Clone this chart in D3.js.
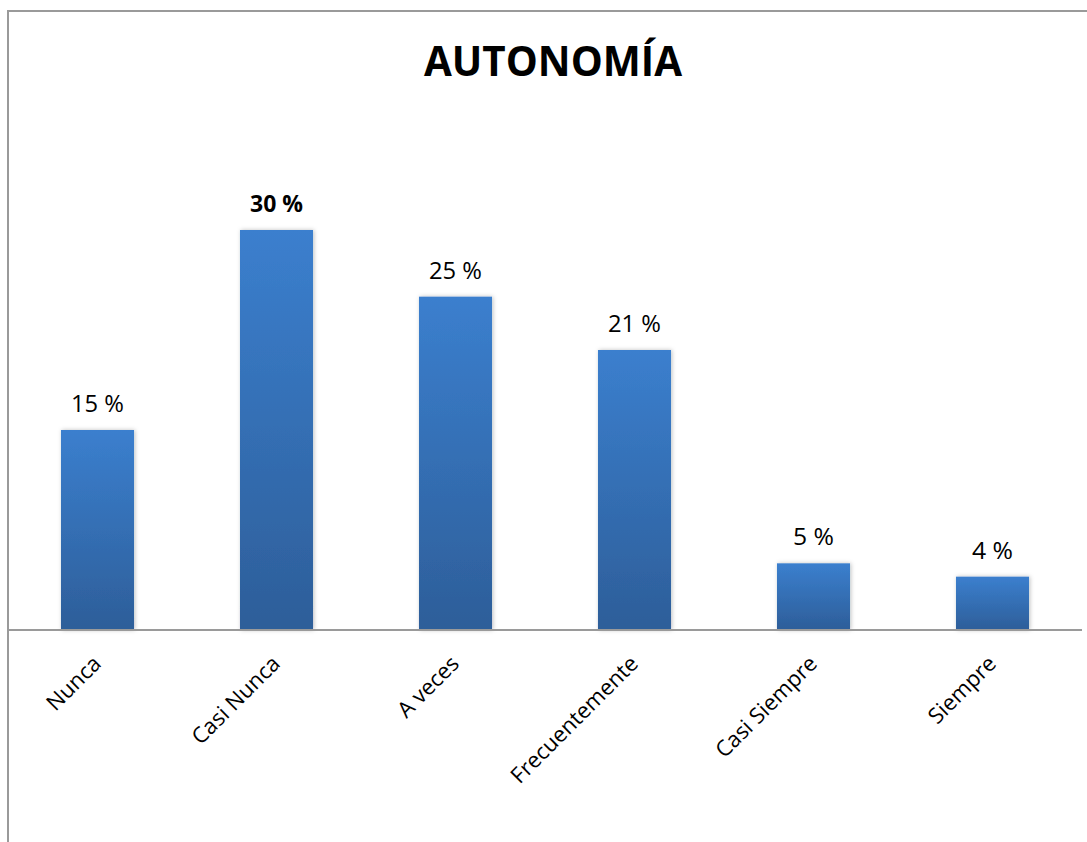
<!DOCTYPE html>
<html>
<head>
<meta charset="utf-8">
<script src="https://cdn.jsdelivr.net/npm/d3@7"></script>
<style>
  html, body { margin: 0; padding: 0; background: #fff; }
  svg { display: block; }
</style>
</head>
<body>
<svg id="chart" width="1087" height="842"></svg>
<script>
// Chart data
const categories = ["Nunca", "Casi Nunca", "A veces", "Frecuentemente", "Casi Siempre", "Siempre"];
const values = [15, 30, 25, 21, 5, 4];
const valueLabels = ["15 %", "30 %", "25 %", "21 %", "5 %", "4 %"];
const boldLabel = [false, true, false, false, false, false];
const title = "AUTONOMÍA";

const svg = d3.select("#chart");
const font = "'Open Sans', 'Noto Sans', sans-serif";

const defs = svg.append("defs");
const grad = defs.append("linearGradient")
  .attr("id", "barFill").attr("x1", 0).attr("y1", 0).attr("x2", 0).attr("y2", 1);
grad.append("stop").attr("offset", "0%").attr("stop-color", "#3b7fce");
grad.append("stop").attr("offset", "100%").attr("stop-color", "#2d5e99");

const shadow = defs.append("filter").attr("id", "barShadow")
  .attr("x", "-20%").attr("y", "-10%").attr("width", "140%").attr("height", "120%");
shadow.append("feDropShadow").attr("dx", 1).attr("dy", 0).attr("stdDeviation", 2)
  .attr("flood-color", "#000").attr("flood-opacity", 0.25);

// Outer frame
svg.append("rect")
  .attr("x", 8).attr("y", 11).attr("width", 1200).attr("height", 1000)
  .attr("fill", "none").attr("stroke", "#9a9a9a").attr("stroke-width", 2);

// Scales
const x = d3.scaleBand()
  .domain(categories)
  .range([8, 1082])
  .paddingInner(0.592)
  .paddingOuter(0.296);

const y = d3.scaleLinear()
  .domain([0, 30])
  .range([630, 230]);

// Bars
svg.append("g").selectAll("rect")
  .data(categories)
  .join("rect")
  .attr("x", (d) => x(d))
  .attr("y", (d, i) => y(values[i]))
  .attr("width", x.bandwidth())
  .attr("height", (d, i) => y(0) - y(values[i]))
  .attr("fill", "url(#barFill)")
  .attr("filter", "url(#barShadow)");

// Category axis
const xAxis = svg.append("g")
  .attr("transform", `translate(0,${y(0)})`)
  .call(d3.axisBottom(x).tickSize(0).tickPadding(0));
xAxis.select(".domain").attr("stroke", "#9a9a9a").attr("stroke-width", 2)
  .attr("d", "M8,0H1082");
xAxis.selectAll(".tick text")
  .attr("font-family", font)
  .attr("font-size", 22)
  .attr("fill", "#000")
  .attr("text-anchor", "end")
  .attr("dy", 0)
  .attr("transform", "translate(5,35) rotate(-45)");

// Value labels
svg.append("g").selectAll("text")
  .data(categories)
  .join("text")
  .attr("x", (d) => x(d) + x.bandwidth() / 2)
  .attr("y", (d, i) => y(values[i]) - 18)
  .attr("text-anchor", "middle")
  .attr("font-family", font)
  .attr("font-size", 24)
  .attr("font-weight", (d, i) => boldLabel[i] ? 700 : 400)
  .attr("fill", "#000")
  .attr("textLength", (d, i) => valueLabels[i].length === 4 ? 53 : 41)
  .attr("lengthAdjust", "spacingAndGlyphs")
  .text((d, i) => valueLabels[i]);

// Title
svg.append("text")
  .attr("x", 553)
  .attr("y", 76)
  .attr("text-anchor", "middle")
  .attr("font-family", font)
  .attr("font-size", 42)
  .attr("font-weight", 700)
  .attr("fill", "#000")
  .attr("textLength", 258)
  .attr("lengthAdjust", "spacingAndGlyphs")
  .text(title);
</script>
</body>
</html>
